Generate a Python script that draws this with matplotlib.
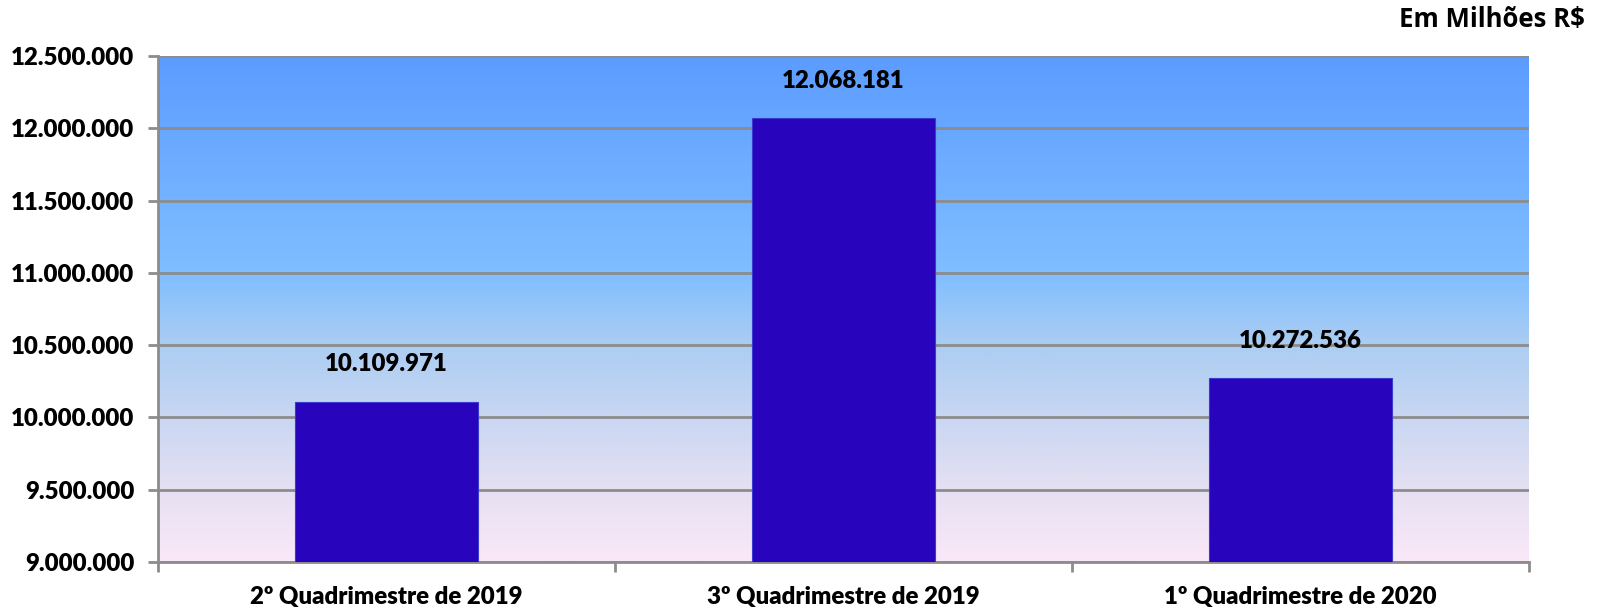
import matplotlib
matplotlib.use("Agg")
import matplotlib.pyplot as plt
import numpy as np
from matplotlib.colors import LinearSegmentedColormap
from matplotlib.ticker import FuncFormatter

categories = ["2º Quadrimestre de 2019", "3º Quadrimestre de 2019", "1º Quadrimestre de 2020"]
values = [10109971, 12068181, 10272536]
value_labels = ["10.109.971", "12.068.181", "10.272.536"]
yticks = [9000000, 9500000, 10000000, 10500000, 11000000, 11500000, 12000000, 12500000]

FONT = ["Lato", "DejaVu Sans"]
WEIGHT = "heavy"
plt.rcParams["font.family"] = FONT
plt.rcParams["font.weight"] = WEIGHT

fig = plt.figure(figsize=(15.98, 6.09), dpi=100)
ax = fig.add_axes([158/1598, 47/609, (1529-158)/1598, (562-56)/609])

ymin, ymax = 9000000, 12500000
ax.set_xlim(-0.5, 2.5)
ax.set_ylim(ymin, ymax)

# gradient background
cmap = LinearSegmentedColormap.from_list("bg", [
    (0.0, "#FAE8F8"),
    (0.15, "#E4E0F2"),
    (0.43, "#ABCDF2"),
    (0.57, "#80BEFF"),
    (1.0, "#5C9CFF"),
])
grad = np.linspace(0, 1, 256).reshape(-1, 1)
ax.imshow(grad, cmap=cmap, aspect="auto", origin="lower",
          extent=[-0.5, 2.5, ymin, ymax], zorder=0)

ax.set_yticks(yticks)
ax.yaxis.grid(True, color="#8C8C8C", linewidth=2, zorder=1)
ax.set_axisbelow(False)

x = np.arange(len(categories))
bars = ax.bar(x, values, width=0.4, color="#2804BC", edgecolor="#3A3AD0",
              linewidth=0.8, zorder=3)

FS = 17.3
for xi, v, lab in zip(x, values, value_labels):
    ax.annotate(lab, (xi, v), xytext=(0, 27), textcoords="offset points",
                ha="center", va="center", fontsize=FS, fontweight=WEIGHT,
                color="black", zorder=4)

ax.yaxis.set_major_formatter(FuncFormatter(lambda v, p: f"{int(v):,}".replace(",", ".")))
ax.set_xticks(x)
ax.set_xticklabels(categories)
ax.set_xticks([-0.5, 0.5, 1.5, 2.5], minor=True)
ax.tick_params(axis="x", which="major", length=0, pad=17, labelsize=FS)
ax.tick_params(axis="x", which="minor", length=7, width=2, color="#8C8C8C")
ax.tick_params(axis="y", length=7, width=2, color="#8C8C8C", labelsize=FS, pad=10)
for t in ax.get_xticklabels() + ax.get_yticklabels():
    t.set_fontweight(WEIGHT)

for s in ["top", "right"]:
    ax.spines[s].set_visible(False)
for s in ["left", "bottom"]:
    ax.spines[s].set_color("#8C8C8C")
    ax.spines[s].set_linewidth(2)

fig.text(1585/1598, 1 - 19/609, "Em Milhões R$", ha="right", va="center",
         fontsize=18.5, fontweight="bold", family=["Open Sans", "DejaVu Sans"])

fig.savefig("out.png", dpi=100)
